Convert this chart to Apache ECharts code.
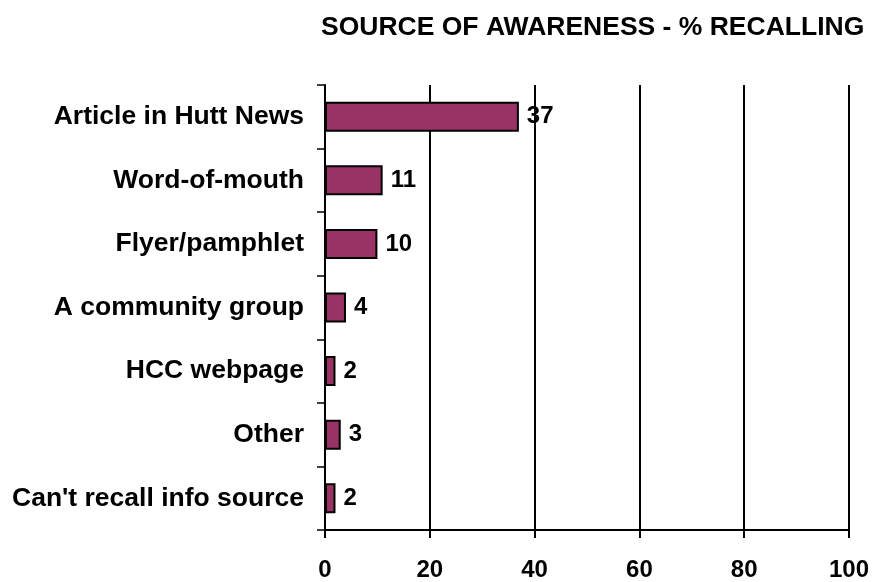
<!DOCTYPE html>
<html>
<head>
<meta charset="utf-8">
<script src="https://cdn.jsdelivr.net/npm/echarts@6/dist/echarts.min.js"></script>
<style>html,body{margin:0;padding:0;background:#fff}#c{width:872px;height:582px}</style>
</head>
<body>
<div id="c"></div>
<script>
const categories = ["Article in Hutt News","Word-of-mouth","Flyer/pamphlet","A community group","HCC webpage","Other","Can't recall info source"];
const values = [37, 11, 10, 4, 2, 3, 2];
const xTicks = [0, 20, 40, 60, 80, 100];

const chart = echarts.init(document.getElementById('c'));
const font = "'Liberation Sans', Arial, sans-serif";
chart.setOption({
  animation: false,
  title: {
    text: 'SOURCE OF AWARENESS - % RECALLING',
    left: 316, top: 9,
    textStyle: {fontFamily: font, fontWeight: 'bold', fontSize: 26.5, color: '#000'}
  },
  grid: {left: 325, right: 23, top: 85, bottom: 51, containLabel: false},
  xAxis: {
    type: 'value', min: xTicks[0], max: xTicks[xTicks.length-1], interval: 20,
    axisLine: {show: true, lineStyle: {color: '#000', width: 2}},
    axisTick: {show: true, length: 8, lineStyle: {color: '#000', width: 2}},
    splitLine: {show: true, lineStyle: {color: '#000', width: 2}},
    axisLabel: {margin: 28, fontFamily: font, fontWeight: 'bold', fontSize: 24, color: '#000'}
  },
  yAxis: {
    type: 'category', data: categories, inverse: true,
    axisLine: {show: true, lineStyle: {color: '#000', width: 2}},
    axisTick: {show: true, length: 8, lineStyle: {color: '#000', width: 1.5}},
    axisLabel: {margin: 21, fontFamily: font, fontWeight: 'bold', fontSize: 26.5, color: '#000'}
  },
  series: [{
    type: 'bar', data: values, barWidth: 30,
    itemStyle: {color: '#993366', borderColor: '#000', borderWidth: 2},
    label: {show: true, position: 'right', distance: 8, fontFamily: font, fontWeight: 'bold', fontSize: 24, color: '#000'}
  }]
});
</script>
</body>
</html>
